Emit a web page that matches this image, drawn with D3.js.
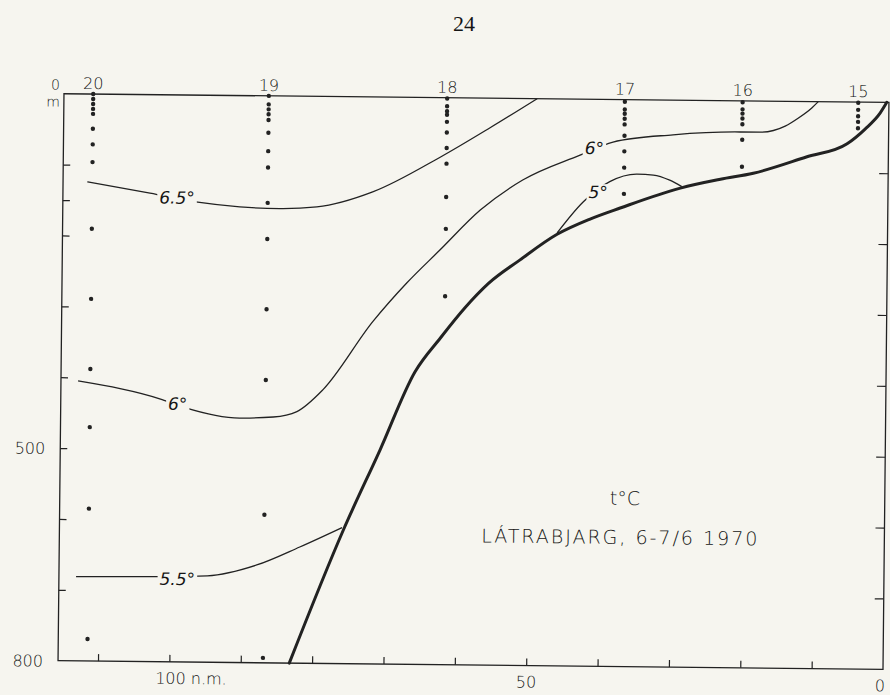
<!DOCTYPE html>
<html>
<head>
<meta charset="utf-8">
<script src="https://cdn.jsdelivr.net/npm/d3@7"></script>
<style>
  html, body { margin: 0; padding: 0; background: #f6f5ef; }
  svg { display: block; }
  text { fill: #151515; }
</style>
</head>
<body>
<svg id="chart" width="890" height="695"></svg>
<script>
// Hydrographic section, temperature, Látrabjarg 6-7/6 1970

// station names and distance from shore (n.m.)
const stations = ['20', '19', '18', '17', '16', '15'];
const stationDist = [111.5, 86.9, 61.9, 37.0, 20.5, 4.3];

// sampling depths per station (m)
const sampleDepths = [
  [0, 7, 14, 21, 28, 49, 71, 96, 190, 289, 388, 470, 585, 769],
  [0, 12, 19, 26, 34, 52, 78, 101, 151, 202, 301, 401, 591, 793],
  [1, 12, 19, 24, 34, 49, 71, 93, 140, 185, 280],
  [3, 14, 20, 27, 35, 51, 73, 96, 133],
  [2, 12, 18, 25, 33, 55, 93],
  [1, 11, 20, 28, 37]
];

// sea bottom profile
const bottomDist  = [83.2, 75.8, 70.8, 66.0, 62.5, 59.1, 55.8, 51.5, 46.3, 41.7, 37.5, 29.1, 23.5, 18.9, 11.4, 5.8, 3.3, 1.2, 0.3];
const bottomDepth = [800, 611, 498, 387, 339, 296, 261, 228, 191, 169, 153, 124, 111, 102, 78, 59, 38, 15, 0];

// isotherms (dist n.m., depth m)
const iso65Dist  = [112.2, 103.4, 96.7, 90.8, 85.2, 80.0, 72.2, 62.8, 55.9, 49.3];
const iso65Depth = [124, 139, 151, 157, 159, 156, 134, 84, 42, 0];
const iso6Dist   = [113.2, 101.4, 98.2, 90.5, 85.8, 82.5, 78.9, 72.0, 67.3, 62.7, 57.1, 51.2, 43.2, 38.6, 30.2, 20.8, 18.0, 14.5, 12.6, 10.8, 9.9];
const iso6Depth  = [405, 430, 441, 455, 453, 445, 414, 317, 262, 215, 158, 115, 79, 60, 49, 44, 44, 35, 23, 9, 0];
const iso55Dist  = [113.2, 102.8, 94.8, 87.9, 81.9, 76.0];
const iso55Depth = [681, 680, 678, 662, 636, 608];
const iso5Dist   = [46.3, 42.7, 39.0, 35.2, 32.9, 30.6, 28.9];
const iso5Depth  = [189, 145, 116, 105, 106, 113, 122];

// isotherm labels
const isoLabelText  = ['6.5°', '6°', '6°', '5°', '5.5°'];
const isoLabelDist  = [99.6, 99.2, 41.2, 40.6, 99.0];
const isoLabelDepth = [145, 436, 69, 131, 683];

// axis ticks
const leftTicks   = [100, 150, 200, 300, 400, 500, 600, 700];
const rightTicks  = [100, 200, 300, 400, 500, 600, 700];
const bottomTicks = [10, 20, 30, 40, 50, 60, 70, 80, 90, 100, 110];

const INK = '#222';
const PAPER = '#f6f5ef';
const FONT = '"DejaVu Sans", Lato, sans-serif';

const svg = d3.select('#chart');

// page number
svg.append('text')
  .attr('x', 464).attr('y', 31)
  .attr('text-anchor', 'middle')
  .attr('font-family', '"Liberation Serif", "DejaVu Serif", serif')
  .attr('font-size', 22)
  .text('24');

const x = d3.scaleLinear().domain([0, 115.6]).range([886, 61]);
const y = d3.scaleLinear().domain([0, 800]).range([98, 665]);

// the scanned figure is slightly tilted
const g = svg.append('g').attr('transform', 'rotate(0.6, 470, 380)');

// frame
g.append('rect')
  .attr('x', x(115.6)).attr('y', y(0))
  .attr('width', x(0) - x(115.6)).attr('height', y(800) - y(0))
  .attr('fill', 'none').attr('stroke', INK).attr('stroke-width', 1.3);

// inward ticks
const tickStyle = sel => {
  sel.select('.domain').remove();
  sel.selectAll('.tick line').attr('stroke', INK).attr('stroke-width', 1.2);
};
g.append('g').attr('transform', `translate(${x(115.6)},0)`)
  .call(d3.axisLeft(y).tickValues(leftTicks).tickSize(-7).tickFormat(''))
  .call(tickStyle);
g.append('g').attr('transform', `translate(${x(0)},0)`)
  .call(d3.axisRight(y).tickValues(rightTicks).tickSize(-9).tickFormat(''))
  .call(tickStyle);
g.append('g').attr('transform', `translate(0,${y(800)})`)
  .call(d3.axisBottom(x).tickValues(bottomTicks).tickSize(-7).tickFormat(''))
  .call(tickStyle);

// axis labels
const axisText = (tx, ty, str, anchor, size) => g.append('text')
  .attr('x', tx).attr('y', ty)
  .attr('text-anchor', anchor)
  .attr('font-family', FONT).attr('font-weight', 300)
  .attr('font-size', size || 16)
  .text(str);

axisText(x(115.6) - 4, y(0) - 4, '0', 'end', 14);
axisText(x(115.6) - 4, y(0) + 13, 'm', 'end', 14);
axisText(x(115.6) - 15, y(500) + 6, '500', 'end');
axisText(x(115.6) - 15, y(800) + 6, '800', 'end');
axisText(x(100) - 14, y(800) + 22, '100 n.m.', 'start');
axisText(x(50), y(800) + 22, '50', 'middle');
axisText(x(0) - 3, y(800) + 22, '0', 'middle');

// station labels and sample dots
stations.forEach((s, i) => {
  axisText(x(stationDist[i]), y(0) - 5, s, 'middle');
  g.append('g').selectAll('circle')
    .data(sampleDepths[i])
    .join('circle')
    .attr('cx', x(stationDist[i]))
    .attr('cy', d => y(d))
    .attr('r', 2.2)
    .attr('fill', INK);
});

const line = d3.line()
  .x(d => x(d[0]))
  .y(d => y(d[1]))
  .curve(d3.curveMonotoneX);

const isotherms = [
  [iso65Dist, iso65Depth],
  [iso6Dist, iso6Depth],
  [iso55Dist, iso55Depth],
  [iso5Dist, iso5Depth]
];

isotherms.forEach(([ds, zs]) => {
  g.append('path')
    .attr('d', line(ds.map((d, i) => [d, zs[i]])))
    .attr('fill', 'none')
    .attr('stroke', INK)
    .attr('stroke-width', 1.3);
});

// sea bottom
g.append('path')
  .attr('d', line(bottomDist.map((d, i) => [d, bottomDepth[i]])))
  .attr('fill', 'none')
  .attr('stroke', INK)
  .attr('stroke-width', 3)
  .attr('stroke-linecap', 'round');

// isotherm labels, with a paper-coloured gap in the line
isoLabelText.forEach((t, i) => {
  const lg = g.append('g');
  const bg = lg.append('rect').attr('fill', PAPER);
  const txt = lg.append('text')
    .attr('x', x(isoLabelDist[i]))
    .attr('y', y(isoLabelDepth[i]) + 6)
    .attr('text-anchor', 'middle')
    .attr('font-family', FONT).attr('font-weight', 300)
    .attr('font-style', 'italic')
    .attr('font-size', 17)
    .text(t);
  const b = txt.node().getBBox();
  bg.attr('x', b.x - 2).attr('y', b.y + 2)
    .attr('width', b.width + 4).attr('height', b.height - 4);
});

// title block
g.append('text')
  .attr('x', x(36.4)).attr('y', y(562) + 7)
  .attr('text-anchor', 'middle')
  .attr('font-family', FONT).attr('font-weight', 300)
  .attr('font-size', 19)
  .text('t°C');
g.append('text')
  .attr('x', x(37.0)).attr('y', y(617) + 7)
  .attr('text-anchor', 'middle')
  .attr('font-family', FONT).attr('font-weight', 300)
  .attr('font-size', 19)
  .attr('letter-spacing', 2)
  .text('LÁTRABJARG, 6-7/6 1970');
</script>
</body>
</html>
